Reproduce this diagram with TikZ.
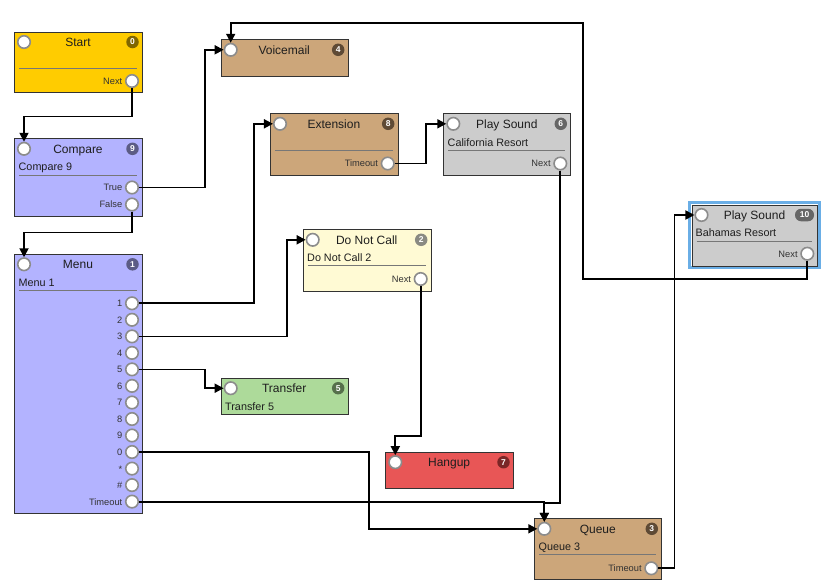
\documentclass[tikz,border=0pt]{standalone}
\usepackage{fontspec}
\setmainfont{Liberation Sans}
\usetikzlibrary{arrows.meta,calc}

\definecolor{cyellow}{HTML}{FFCC00}
\definecolor{bYellow}{HTML}{806600}
\definecolor{clav}{HTML}{B3B3FF}
\definecolor{bLav}{HTML}{5C5C85}
\definecolor{ctan}{HTML}{CCA67A}
\definecolor{bTan}{HTML}{5E4A35}
\definecolor{cgray}{HTML}{CCCCCC}
\definecolor{bGray}{HTML}{666666}
\definecolor{ccream}{HTML}{FFFAD4}
\definecolor{bCream}{HTML}{8A8A82}
\definecolor{cgreen}{HTML}{ADDA9A}
\definecolor{bGreen}{HTML}{56704B}
\definecolor{cred}{HTML}{E85656}
\definecolor{bRed}{HTML}{7A2626}
\definecolor{boxline}{HTML}{333333}
\definecolor{portline}{HTML}{8C8C8C}
\definecolor{sepc}{HTML}{777777}
\definecolor{titlec}{HTML}{1E1E1E}
\definecolor{labelc}{HTML}{333333}
\definecolor{selblue}{HTML}{6AAEE6}

\tikzset{
  flowbox/.style={draw=boxline, line width=1pt, rectangle, inner sep=0pt, anchor=north west},
  port/.style={circle, draw=portline, fill=white, line width=1.6pt, minimum size=12.5pt, inner sep=0pt},
  badge/.style={circle, fill=#1, text=white, font=\fontsize{8.5}{9}\selectfont\bfseries, inner sep=0pt, minimum size=12.5pt},
  pillbadge/.style={rectangle, rounded corners=6pt, fill=#1, text=white, font=\fontsize{8.5}{9}\selectfont\bfseries, inner sep=0pt, minimum width=19pt, minimum height=12.5pt},
  conn/.style={draw=black, line width=1.8pt, -{Triangle[length=9pt,width=9pt]}},
  ttl/.style={font=\fontsize{12}{14}\selectfont, text=titlec, anchor=base, inner sep=0pt},
  subttl/.style={font=\fontsize{10.8}{12}\selectfont, anchor=base west, text=titlec, inner sep=0pt},
  plabel/.style={font=\fontsize{9.3}{11}\selectfont, anchor=base east, text=labelc, inner sep=0pt},
  sepline/.style={draw=sepc, line width=1pt},
}

% name, left, top, right, bottom, fill, badge colour, title, number
\newcommand{\flowblock}[9]{%
  \node[flowbox, fill=#6, minimum width={(#4-#2)*1pt}, minimum height={(#5-#3)*1pt}] (#1) at (#2,#3) {};
  \node[ttl] (#1-t) at ({(#2+#4)/2},{#3+14.8}) {#8};
  \node[badge=#7] (#1-b) at ({#4-9.5},{#3+10.5}) {#9};
  \node[port] (#1-in) at ({#2+10},{#3+10.5}) {};
}
% name, node, y, right, text
\newcommand{\outport}[5]{%
  \node[port] (#1) at ({#4-10},#3) {};
  \node[plabel] (#1-l) at ({#4-19.5},{#3+3.4}) {#5};
}
\newcommand{\sepat}[3]{\draw[sepline] ({#1+5},#3) -- ({#2-5},#3);}

\begin{document}
\begin{tikzpicture}[x=1pt,y=-1pt]
\useasboundingbox[fill=white] (0,0) rectangle (827,587);

% Start
\flowblock{start}{14}{31.5}{142}{92}{cyellow}{bYellow}{Start}{0}
\sepat{14}{142}{68}
\outport{startnext}{start}{81}{142}{Next}

% Compare
\flowblock{cmp}{14}{138.3}{142}{215.7}{clav}{bLav}{Compare}{9}
\node[subttl] (cmp-s) at (18.5,170) {Compare 9};
\sepat{14}{142}{175}
\outport{cmptrue}{cmp}{187.5}{142}{True}
\outport{cmpfalse}{cmp}{204.5}{142}{False}

% Menu
\flowblock{menu}{14}{253.8}{142}{513.3}{clav}{bLav}{Menu}{1}
\node[subttl] (menu-s) at (18.5,286) {Menu 1};
\sepat{14}{142}{290.7}
\outport{m1}{menu}{303.3}{142}{1}
\outport{m2}{menu}{319.8}{142}{2}
\outport{m3}{menu}{336.4}{142}{3}
\outport{m4}{menu}{352.9}{142}{4}
\outport{m5}{menu}{369.4}{142}{5}
\outport{m6}{menu}{385.9}{142}{6}
\outport{m7}{menu}{402.5}{142}{7}
\outport{m8}{menu}{419.0}{142}{8}
\outport{m9}{menu}{435.5}{142}{9}
\outport{m0}{menu}{452.0}{142}{0}
\outport{mstar}{menu}{468.6}{142}{*}
\outport{mhash}{menu}{485.1}{142}{\#}
\outport{mtimeout}{menu}{501.6}{142}{Timeout}

% Voicemail
\flowblock{vm}{220.7}{39.3}{347.7}{76}{ctan}{bTan}{Voicemail}{4}

% Extension
\flowblock{ext}{270}{113.3}{397.7}{175.3}{ctan}{bTan}{Extension}{8}
\sepat{270}{397.7}{150}
\outport{exttimeout}{ext}{163.5}{397.7}{Timeout}

% Play Sound 6
\flowblock{ps6}{443.3}{113.3}{570.3}{175.3}{cgray}{bGray}{Play Sound}{6}
\node[subttl] (ps6-s) at (447.5,146) {California Resort};
\sepat{443.3}{570.3}{150}
\outport{ps6next}{ps6}{163.5}{570.3}{Next}

% Do Not Call
\flowblock{dnc}{302.7}{229.3}{430.7}{290.7}{ccream}{bCream}{Do Not Call}{2}
\node[subttl] (dnc-s) at (307,261) {Do Not Call 2};
\sepat{302.7}{430.7}{265.7}
\outport{dncnext}{dnc}{279}{430.7}{Next}

% Transfer
\flowblock{tr}{220.7}{377.7}{347.7}{414}{cgreen}{bGreen}{Transfer}{5}
\node[subttl] (tr-s) at (225,410) {Transfer 5};

% Hangup
\flowblock{hang}{385.3}{451.7}{513}{488.3}{cred}{bRed}{Hangup}{7}

% Queue
\flowblock{q}{534.3}{518.3}{661.3}{579}{ctan}{bTan}{Queue}{3}
\node[subttl] (q-s) at (538.5,550) {Queue 3};
\sepat{534.3}{661.3}{554.5}
\outport{qtimeout}{q}{568.3}{661.3}{Timeout}

% Play Sound 10 (selected)
\draw[selblue, line width=3.5pt] (689.7,202.7) rectangle (819.3,267.3);
\node[flowbox, fill=cgray, minimum width=125.6pt, minimum height=61pt] (ps10) at (691.7,204.5) {};
\node[ttl] (ps10-t) at ({(691.7+817.3)/2},219.3) {Play Sound};
\node[pillbadge=bGray] (ps10-b) at (804.5,215) {10};
\node[port] (ps10-in) at (701.5,215) {};
\node[subttl] (ps10-s) at (695.5,236.3) {Bahamas Resort};
\sepat{691.7}{817.3}{241}
\outport{ps10next}{ps10}{253.7}{817.3}{Next}

% Connectors
\draw[conn] (startnext.south) -- ++(0,28.5) -| (cmp-in.north);
\draw[conn] (cmptrue.east) -| ([xshift=-19pt]vm-in.west) -- (vm-in.west);
\draw[conn] (cmpfalse.south) -- ++(0,21) -| (menu-in.north);
\draw[conn] (m1.east) -| ([xshift=-19pt]ext-in.west) -- (ext-in.west);
\draw[conn] (m3.east) -| ([xshift=-19pt]dnc-in.west) -- (dnc-in.west);
\draw[conn] (m5.east) -| ([xshift=-19pt]tr-in.west) -- (tr-in.west);
\draw[conn] (m0.east) -- ++(230,0) |- (q-in.west);
\draw[conn] (mtimeout.east) -| (q-in.north);
\draw[conn] (exttimeout.east) -| ([xshift=-20pt]ps6-in.west) -- (ps6-in.west);
\draw[conn] (ps6next.south) |- ([yshift=19pt]q-in.north) -- (q-in.north);
\draw[conn] (dncnext.south) |- ([yshift=19pt]hang-in.north) -- (hang-in.north);
\draw[conn] (qtimeout.east) -| ([xshift=-20pt]ps10-in.west) -- (ps10-in.west);
\draw[conn] (ps10next.south) -- ++(0,18.5) -- ++(-224,0) |- ([yshift=20pt]vm-in.north) -- (vm-in.north);
\end{tikzpicture}
\end{document}
